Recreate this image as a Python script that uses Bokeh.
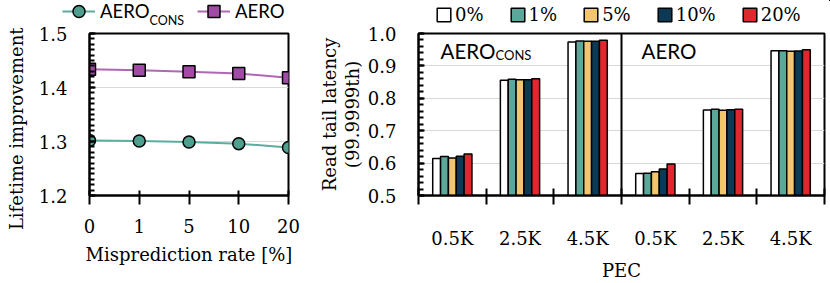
from bokeh.plotting import figure
from bokeh.layouts import row, column
from bokeh.models import (Range1d, SingleIntervalTicker, FixedTicker, PrintfTickFormatter,
                          Legend, LegendItem, Label, Span, ColumnDataSource)
from bokeh.transform import dodge
from bokeh.embed import file_html
from bokeh.resources import INLINE

SERIF = "DejaVu Serif"
SANS = "Lato"

# ---------------- left chart data ----------------
mispred_labels = ["0", "1", "5", "10", "20"]
aero_cons_lifetime = [1.302, 1.301, 1.299, 1.296, 1.289]
aero_lifetime = [1.434, 1.432, 1.429, 1.426, 1.418]

# ---------------- right chart data ----------------
pec_labels = ["0.5K", "2.5K", "4.5K", "0.5K", "2.5K", "4.5K"]
rate_labels = ["0%", "1%", "5%", "10%", "20%"]
lat_0 = [0.614, 0.856, 0.974, 0.568, 0.764, 0.947]
lat_1 = [0.620, 0.859, 0.977, 0.569, 0.766, 0.947]
lat_5 = [0.616, 0.857, 0.976, 0.573, 0.763, 0.945]
lat_10 = [0.621, 0.857, 0.976, 0.582, 0.765, 0.946]
lat_20 = [0.628, 0.860, 0.979, 0.597, 0.766, 0.950]
bar_colors = ["#FFFFFF", "#5BA89A", "#F1C571", "#0C3A56", "#E0262F"]

TEAL_LINE = "#5AAE9E"
TEAL_FILL = "#4E9F8E"
PURPLE_LINE = "#B068B5"
PURPLE_FILL = "#A04CA6"
GRID = "#d9d9d9"

line_styles = dict(cons=dict(line_color=TEAL_LINE, line_width=2),
                   aero=dict(line_color=PURPLE_LINE, line_width=2))
marker_styles = dict(cons=dict(marker="circle", size=12, fill_color=TEAL_FILL,
                               line_color="black", line_width=1.5),
                     aero=dict(marker="square", size=12, fill_color=PURPLE_FILL,
                               line_color="black", line_width=1.5))

xs = list(range(len(mispred_labels)))
src1 = ColumnDataSource(dict(x=xs, cons=aero_cons_lifetime, aero=aero_lifetime))
centers = [i + 0.5 for i in range(len(pec_labels))]
src2 = ColumnDataSource(dict(x=centers, r0=lat_0, r1=lat_1, r5=lat_5, r10=lat_10, r20=lat_20))
rate_cols = ["r0", "r1", "r5", "r10", "r20"]
bw = 0.116

W, H = 830, 283
TOP = 33  # frame top of both charts


def style_axes(p):
    p.outline_line_color = "black"
    p.outline_line_width = 2
    p.border_fill_alpha = 0
    p.background_fill_alpha = 0
    p.xgrid.visible = False
    p.ygrid.grid_line_color = GRID
    p.ygrid.grid_line_width = 1
    for ax in (p.xaxis[0], p.yaxis[0]):
        ax.axis_line_color = "black"
        ax.axis_line_width = 2
        ax.major_tick_line_color = "black"
        ax.major_tick_line_width = 2
        ax.minor_tick_line_color = "black"
        ax.minor_tick_line_width = 2
        ax.major_label_text_font = SERIF
        ax.major_label_text_font_size = "18px"
        ax.major_label_text_color = "black"
        ax.axis_label_text_font = SERIF
        ax.axis_label_text_font_size = "18px"
        ax.axis_label_text_font_style = "normal"
        ax.axis_label_text_color = "black"


# ================= HEADER (legends, laid over the top border of the charts) =================
# its renderers share the chart data, but this strip's ranges keep them far out of view
h = figure(width=W, height=TOP, x_range=Range1d(-1000, -999), y_range=Range1d(-1000, -999),
           output_backend="svg", toolbar_location=None,
           x_axis_location=None, y_axis_location=None, min_border=0)
h.outline_line_color = None
h.border_fill_alpha = 0
h.background_fill_alpha = 0
h.grid.visible = False
h.margin = (0, 0, -TOP, 0)

hl_cons = h.line("x", "cons", source=src1, **line_styles["cons"])
hs_cons = h.scatter("x", "cons", source=src1, **marker_styles["cons"])
hl_aero = h.line("x", "aero", source=src1, **line_styles["aero"])
hs_aero = h.scatter("x", "aero", source=src1, **marker_styles["aero"])

leg1 = Legend(items=[LegendItem(label="AERO", renderers=[hl_cons, hs_cons]),
                     LegendItem(label="AERO", renderers=[hl_aero, hs_aero])],
              orientation="horizontal", location=(62, 7),
              glyph_width=33, glyph_height=30, label_standoff=5, label_width=92,
              label_height=20, spacing=5, padding=0, margin=0,
              background_fill_alpha=0, border_line_alpha=0,
              label_text_font=SANS, label_text_font_size="18.5px", label_text_color="black")
h.add_layout(leg1)
h.add_layout(Label(x=149, y=13.5, x_units="screen", y_units="screen", text="CONS",
                   text_baseline="alphabetic",
                   text_font=SANS, text_font_size="12.5px", text_color="black"))

hbars = [h.vbar(x="x", top=col, bottom=0.5, width=bw, source=src2, fill_color=c,
                line_color="black", line_width=1.5)
         for col, c in zip(rate_cols, bar_colors)]
leg2 = Legend(items=[LegendItem(label=lab, renderers=[r]) for lab, r in zip(rate_labels, hbars)],
              orientation="horizontal", location=(435, 8),
              glyph_width=17, glyph_height=17, label_standoff=3, label_height=20,
              spacing=25, padding=0, margin=0,
              background_fill_alpha=0, border_line_alpha=0,
              label_text_font=SERIF, label_text_font_size="18px", label_text_color="black")
h.add_layout(leg2)

# ================= LEFT =================
p1 = figure(width=312, height=H, x_range=Range1d(0, 4), y_range=Range1d(1.2, 1.5),
            output_backend="svg", toolbar_location=None,
            min_border_left=89, min_border_right=24, min_border_top=TOP, min_border_bottom=81)
style_axes(p1)

p1.line("x", "cons", source=src1, **line_styles["cons"])
p1.scatter("x", "cons", source=src1, **marker_styles["cons"])
p1.line("x", "aero", source=src1, **line_styles["aero"])
p1.scatter("x", "aero", source=src1, **marker_styles["aero"])

p1.xaxis.ticker = FixedTicker(ticks=xs)
p1.xaxis.major_label_overrides = {i: lab for i, lab in zip(xs, mispred_labels)}
p1.xaxis.major_tick_in = 5
p1.xaxis.major_tick_out = 9
p1.xaxis.major_label_standoff = 14
p1.xaxis.axis_label = "Misprediction rate [%]"
p1.xaxis.axis_label_standoff = 8

p1.yaxis.ticker = SingleIntervalTicker(interval=0.1, num_minor_ticks=10)
p1.yaxis.formatter = PrintfTickFormatter(format="%.1f")
p1.yaxis.major_tick_in = 6
p1.yaxis.major_tick_out = 0
p1.yaxis.minor_tick_in = 5
p1.yaxis.minor_tick_out = 0
p1.yaxis.major_label_standoff = 22
# trailing no-break spaces move the centred label a little lower, as in the original
p1.yaxis.axis_label = "Lifetime improvement" + "\u00a0" * 5
p1.yaxis.axis_label_standoff = 9

# ================= RIGHT =================
p2 = figure(width=518, height=H, x_range=Range1d(0, 6), y_range=Range1d(0.5, 1.0),
            output_backend="svg", toolbar_location=None,
            min_border_left=106, min_border_right=6, min_border_top=TOP, min_border_bottom=81)
style_axes(p2)
for k, col in enumerate(rate_cols):
    p2.vbar(x=dodge("x", (k - 2) * bw, range=p2.x_range), top=col, bottom=0.5,
            width=bw, source=src2, fill_color=bar_colors[k], line_color="black",
            line_width=1.5)

p2.add_layout(Span(location=3, dimension="height", line_color="black", line_width=2))

p2.xaxis.ticker = FixedTicker(ticks=centers, minor_ticks=list(range(len(pec_labels) + 1)))
p2.xaxis.major_label_overrides = {c: lab for c, lab in zip(centers, pec_labels)}
p2.xaxis.major_tick_in = 0
p2.xaxis.major_tick_out = 0
p2.xaxis.minor_tick_in = 7
p2.xaxis.minor_tick_out = 9
p2.xaxis.major_label_standoff = 23
p2.xaxis.axis_label = "PEC"
p2.xaxis.axis_label_standoff = 8

p2.yaxis.ticker = SingleIntervalTicker(interval=0.1, num_minor_ticks=5)
p2.yaxis.formatter = PrintfTickFormatter(format="%.1f")
p2.yaxis.major_tick_in = 6
p2.yaxis.major_tick_out = 0
p2.yaxis.minor_tick_in = 5
p2.yaxis.minor_tick_out = 0
p2.yaxis.major_label_standoff = 22
p2.yaxis.axis_label = "Read tail latency\n(99.9999th)"
p2.yaxis.axis_label_standoff = 2
p2.yaxis.axis_label_text_line_height = 1.1

p2.add_layout(Label(x=22, y=144.3, x_units="screen", y_units="screen", text="AERO",
                    text_baseline="alphabetic",
                    text_font=SANS, text_font_size="20.5px", text_color="black"))
p2.add_layout(Label(x=77, y=140.3, x_units="screen", y_units="screen", text="CONS",
                    text_baseline="alphabetic",
                    text_font=SANS, text_font_size="13px", text_color="black"))
p2.add_layout(Label(x=223, y=144.3, x_units="screen", y_units="screen", text="AERO",
                    text_baseline="alphabetic",
                    text_font=SANS, text_font_size="20.5px", text_color="black"))

layout = column(h, row(p1, p2))
open("out.html", "w").write(file_html(layout, INLINE))
